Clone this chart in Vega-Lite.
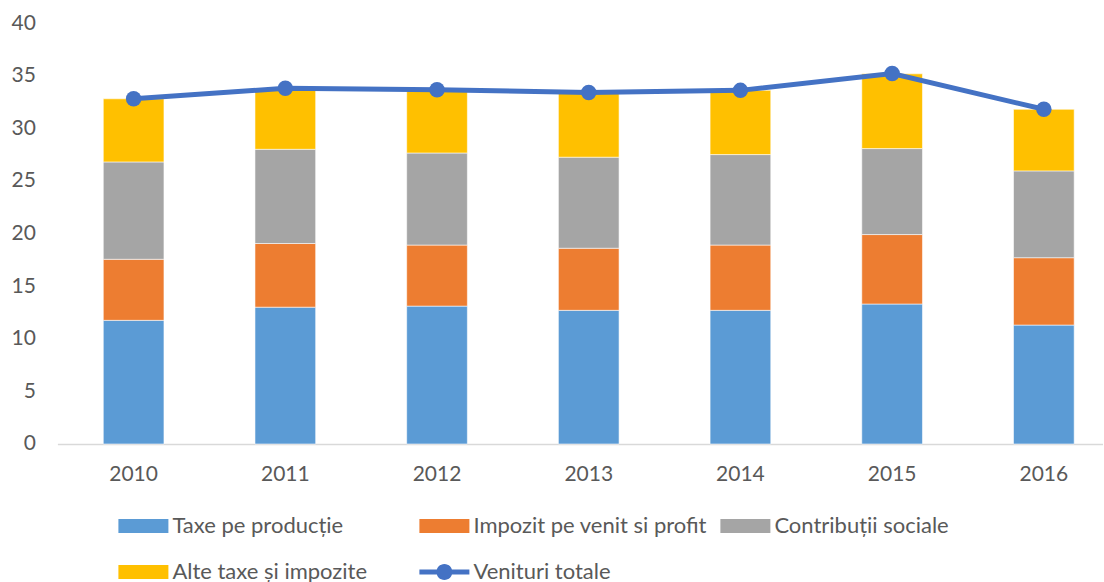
{
  "$schema": "https://vega.github.io/schema/vega-lite/v6.json",
  "width": 1046,
  "height": 421,
  "autosize": {"type": "none"},
  "padding": {"left": 57.4, "top": 23, "right": 0, "bottom": 138},
  "background": "white",
  "config": {
    "view": {"stroke": null},
    "font": "Lato",
    "axis": {"labelFont": "Lato", "labelColor": "#595959", "labelFontSize": 21, "grid": false, "ticks": false, "title": null}
  },
  "datasets": {
    "bars": [
      {"year": "2010", "series": "Taxe pe producție", "value": 11.75},
      {"year": "2010", "series": "Impozit pe venit si profit", "value": 5.8},
      {"year": "2010", "series": "Contribuții sociale", "value": 9.25},
      {"year": "2010", "series": "Alte taxe și impozite", "value": 6.0},
      {"year": "2011", "series": "Taxe pe producție", "value": 13.0},
      {"year": "2011", "series": "Impozit pe venit si profit", "value": 6.05},
      {"year": "2011", "series": "Contribuții sociale", "value": 8.95},
      {"year": "2011", "series": "Alte taxe și impozite", "value": 5.8},
      {"year": "2012", "series": "Taxe pe producție", "value": 13.1},
      {"year": "2012", "series": "Impozit pe venit si profit", "value": 5.8},
      {"year": "2012", "series": "Contribuții sociale", "value": 8.75},
      {"year": "2012", "series": "Alte taxe și impozite", "value": 6.0},
      {"year": "2013", "series": "Taxe pe producție", "value": 12.7},
      {"year": "2013", "series": "Impozit pe venit si profit", "value": 5.9},
      {"year": "2013", "series": "Contribuții sociale", "value": 8.65},
      {"year": "2013", "series": "Alte taxe și impozite", "value": 6.15},
      {"year": "2014", "series": "Taxe pe producție", "value": 12.7},
      {"year": "2014", "series": "Impozit pe venit si profit", "value": 6.2},
      {"year": "2014", "series": "Contribuții sociale", "value": 8.6},
      {"year": "2014", "series": "Alte taxe și impozite", "value": 6.1},
      {"year": "2015", "series": "Taxe pe producție", "value": 13.3},
      {"year": "2015", "series": "Impozit pe venit si profit", "value": 6.6},
      {"year": "2015", "series": "Contribuții sociale", "value": 8.17},
      {"year": "2015", "series": "Alte taxe și impozite", "value": 7.1},
      {"year": "2016", "series": "Taxe pe producție", "value": 11.3},
      {"year": "2016", "series": "Impozit pe venit si profit", "value": 6.4},
      {"year": "2016", "series": "Contribuții sociale", "value": 8.25},
      {"year": "2016", "series": "Alte taxe și impozite", "value": 5.85}
    ],
    "total": [
      {"year": "2010", "series": "Venituri totale", "value": 32.8},
      {"year": "2011", "series": "Venituri totale", "value": 33.8},
      {"year": "2012", "series": "Venituri totale", "value": 33.65},
      {"year": "2013", "series": "Venituri totale", "value": 33.4},
      {"year": "2014", "series": "Venituri totale", "value": 33.6},
      {"year": "2015", "series": "Venituri totale", "value": 35.2},
      {"year": "2016", "series": "Venituri totale", "value": 31.8}
    ]
  },
  "layer": [
    {
      "data": {"name": "bars"},
      "mark": {"type": "bar", "stroke": "white", "strokeWidth": 0.8, "strokeOpacity": 0.7},
      "encoding": {
        "x": {
          "field": "year", "type": "ordinal",
          "scale": {"paddingInner": 0.6, "paddingOuter": 0.2475, "align": 0.611},
          "axis": {"domain": true, "domainColor": "#d9d9d9", "domainWidth": 1.5, "labelPadding": 20, "labelAngle": 0}
        },
        "y": {
          "field": "value", "type": "quantitative", "stack": "zero",
          "scale": {"domain": [0, 40]},
          "axis": {"domain": false, "values": [0, 5, 10, 15, 20, 25, 30, 35, 40], "labelPadding": 22}
        },
        "color": {
          "field": "series", "type": "nominal",
          "sort": ["Taxe pe producție", "Impozit pe venit si profit", "Contribuții sociale", "Alte taxe și impozite", "Venituri totale"],
          "scale": {
            "domain": ["Taxe pe producție", "Impozit pe venit si profit", "Contribuții sociale", "Alte taxe și impozite", "Venituri totale"],
            "range": ["#5B9BD5", "#ED7D31", "#A5A5A5", "#FFC000", "#4472C4"]
          },
          "legend": {
            "orient": "none", "legendX": 61, "legendY": 478,
            "direction": "horizontal", "columns": 3, "gridAlign": "all",
            "columnPadding": 13, "rowPadding": 10, "title": null, "padding": 0,
            "labelFont": "Lato", "labelFontSize": 22, "labelColor": "#595959", "labelLimit": 400,
            "labelOffset": 4, "symbolSize": 2500, "symbolStrokeWidth": 0,
            "symbolType": "M-1,-0.28H1V0.28H-1Z",
            "encode": {
              "symbols": {
                "enter": {
                  "shape": {"signal": "datum.value === 'Venituri totale' ? 'M-1,-0.1H1V0.1H-1Z M-0.32,0A0.32,0.32 0 1,1 0.32,0A0.32,0.32 0 1,1 -0.32,0Z' : 'M-1,-0.28H1V0.28H-1Z'"}
                },
                "update": {
                  "shape": {"signal": "datum.value === 'Venituri totale' ? 'M-1,-0.1H1V0.1H-1Z M-0.32,0A0.32,0.32 0 1,1 0.32,0A0.32,0.32 0 1,1 -0.32,0Z' : 'M-1,-0.28H1V0.28H-1Z'"},
                  "fill": {"scale": "color", "field": "value"},
                  "strokeWidth": {"value": 0},
                  "opacity": {"value": 1}
                }
              }
            }
          }
        }
      }
    },
    {
      "data": {"name": "total"},
      "mark": {"type": "line", "strokeWidth": 5, "point": {"size": 240, "filled": true, "opacity": 1}},
      "encoding": {
        "x": {"field": "year", "type": "ordinal"},
        "y": {"field": "value", "type": "quantitative"},
        "color": {
          "field": "series", "type": "nominal",
          "legend": {
            "orient": "none", "legendX": 61, "legendY": 478,
            "direction": "horizontal", "columns": 3, "gridAlign": "all",
            "columnPadding": 13, "rowPadding": 10, "title": null, "padding": 0,
            "labelFont": "Lato", "labelFontSize": 22, "labelColor": "#595959", "labelLimit": 400,
            "labelOffset": 4, "symbolSize": 2500, "symbolStrokeWidth": 0,
            "symbolType": "M-1,-0.28H1V0.28H-1Z",
            "encode": {
              "symbols": {
                "update": {
                  "shape": {"signal": "datum.value === 'Venituri totale' ? 'M-1,-0.1H1V0.1H-1Z M-0.32,0A0.32,0.32 0 1,1 0.32,0A0.32,0.32 0 1,1 -0.32,0Z' : 'M-1,-0.28H1V0.28H-1Z'"},
                  "fill": {"scale": "color", "field": "value"},
                  "strokeWidth": {"value": 0},
                  "opacity": {"value": 1}
                }
              }
            }
          }
        }
      }
    }
  ]
}
